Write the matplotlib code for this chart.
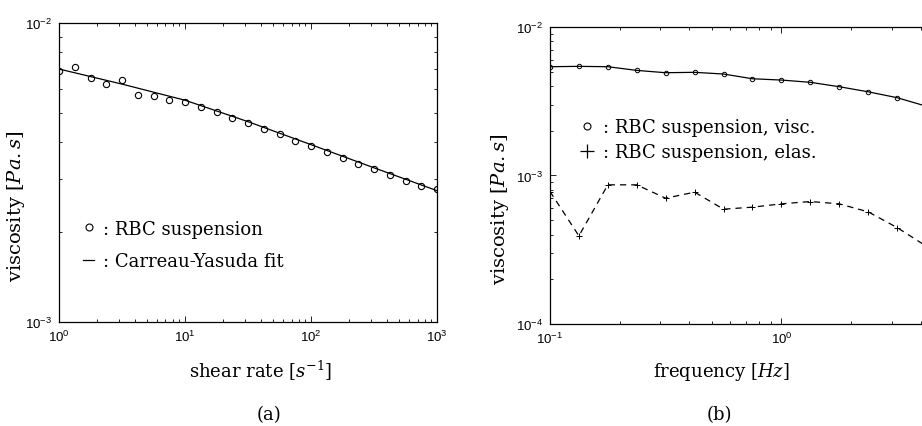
import numpy as np
import matplotlib
matplotlib.use("Agg")
import matplotlib.pyplot as plt
from matplotlib.lines import Line2D
from matplotlib.ticker import LogLocator, NullFormatter

# panel (a): steady shear viscosity
shear_rate = [10 ** (k / 8) for k in range(25)]
visc_steady = [6.92e-3, 7.14e-3, 6.55e-3, 6.25e-3, 6.46e-3, 5.75e-3, 5.71e-3,
               5.55e-3, 5.45e-3, 5.24e-3, 5.05e-3, 4.82e-3, 4.64e-3, 4.41e-3,
               4.27e-3, 4.04e-3, 3.88e-3, 3.70e-3, 3.54e-3, 3.38e-3, 3.24e-3,
               3.10e-3, 2.96e-3, 2.85e-3, 2.78e-3]
fit_rate = [1.0, 3.16, 10.0, 31.6, 100.0, 316.0, 1000.0]
fit_visc = [7.02e-3, 6.25e-3, 5.52e-3, 4.68e-3, 3.92e-3, 3.28e-3, 2.75e-3]

# panel (b): oscillatory viscosity
freq = [0.1 * 10 ** (k / 8) for k in range(14)]
visc_osc = [5.40e-3, 5.43e-3, 5.40e-3, 5.10e-3, 4.92e-3, 4.95e-3, 4.82e-3,
            4.48e-3, 4.39e-3, 4.24e-3, 3.96e-3, 3.66e-3, 3.34e-3, 2.93e-3]
elas_osc = [7.80e-4, 3.92e-4, 8.65e-4, 8.65e-4, 7.03e-4, 7.72e-4, 5.93e-4,
            6.12e-4, 6.44e-4, 6.68e-4, 6.44e-4, 5.69e-4, 4.46e-4, 3.35e-4]
freq_ticks = [0.1, 1.0, 10.0]
freq_ticklabels = [r"$\mathdefault{10^{-1}}$", r"$\mathdefault{10^{0}}$", ""]

# tick labels in a Helvetica-like face, everything else serif
plt.rcParams["font.family"] = "Liberation Sans"
plt.rcParams["mathtext.fontset"] = "dejavuserif"
serif = "DejaVu Serif"

fig = plt.figure(figsize=(9.22, 4.27), dpi=100)
ax1 = fig.add_axes([0.064, 0.2436, 0.41, 0.700])
# right panel runs past the figure edge (cropped, as in the original scan)
ax2 = fig.add_axes([0.5965, 0.2389, 0.502, 0.6956])


def style_axis(ax):
    ax.set_xscale("log")
    ax.set_yscale("log")
    ax.tick_params(which="both", direction="in", top=True, right=True,
                   width=0.6, pad=5, labelsize=9.5)
    ax.tick_params(which="major", length=4)
    ax.tick_params(which="minor", length=2)
    for axis in (ax.xaxis, ax.yaxis):
        axis.set_minor_locator(LogLocator(subs=np.arange(2, 10)))
        axis.set_minor_formatter(NullFormatter())
    for sp in ax.spines.values():
        sp.set_linewidth(0.9)


# (a)
ax1.plot(shear_rate, visc_steady, "o", mfc="none", mec="black", ms=4.5, mew=0.8)
ax1.plot(fit_rate, fit_visc, "-", color="black", lw=0.9)
ax1.set_xlim(1, 1000)
ax1.set_ylim(1e-3, 1e-2)
style_axis(ax1)
ax1.set_xlabel("shear rate [$s^{-1}$]", family=serif, fontsize=13)
ax1.set_ylabel("viscosity [$Pa.s$]", family=serif, fontsize=14)
ax1.xaxis.set_label_coords(0.534, -0.12)
ax1.yaxis.set_label_coords(-0.085, 0.39)
h1 = [Line2D([], [], ls="none", marker="o", mfc="none", mec="black", ms=5, mew=0.8),
      Line2D([], [], ls="-", color="black", lw=0.9)]
ax1.legend(h1, [": RBC suspension", ": Carreau-Yasuda fit"], frameon=False,
           loc="center left", bbox_to_anchor=(0.04, 0.258),
           prop={"family": serif, "size": 13}, handlelength=0.6,
           handletextpad=0.5, labelspacing=0.8, borderpad=0)

# (b)
ax2.plot(freq, visc_osc, "-o", color="black", mfc="none", mec="black",
         ms=3.2, mew=0.7, lw=0.9)
ax2.plot(freq, elas_osc, "--+", color="black", ms=4, mew=0.7, lw=0.9,
         dashes=(5, 4))
ax2.set_xlim(0.1, 10)
ax2.set_ylim(1e-4, 1e-2)
style_axis(ax2)
ax2.set_xticks(freq_ticks, freq_ticklabels)
ax2.set_xlabel("frequency [$Hz$]", family=serif, fontsize=13)
ax2.set_ylabel("viscosity [$Pa.s$]", family=serif, fontsize=14)
ax2.xaxis.set_label_coords(0.371, -0.12)
ax2.yaxis.set_label_coords(-0.085, 0.39)
h2 = [Line2D([], [], ls="none", marker="o", mfc="none", mec="black", ms=5, mew=0.8),
      Line2D([], [], ls="none", marker="+", color="black", ms=10, mew=0.9)]
ax2.legend(h2, [": RBC suspension, visc.", ": RBC suspension, elas."],
           frameon=False, loc="center left", bbox_to_anchor=(0.045, 0.62),
           prop={"family": serif, "size": 13}, handlelength=0.8,
           handletextpad=0.5, labelspacing=0.38, borderpad=0)

fig.text(269 / 922, 1 - 415 / 427, "(a)", family=serif, fontsize=13,
         ha="center", va="center")
fig.text(719 / 922, 1 - 415 / 427, "(b)", family=serif, fontsize=13,
         ha="center", va="center")

fig.savefig("out.png", dpi=100)
